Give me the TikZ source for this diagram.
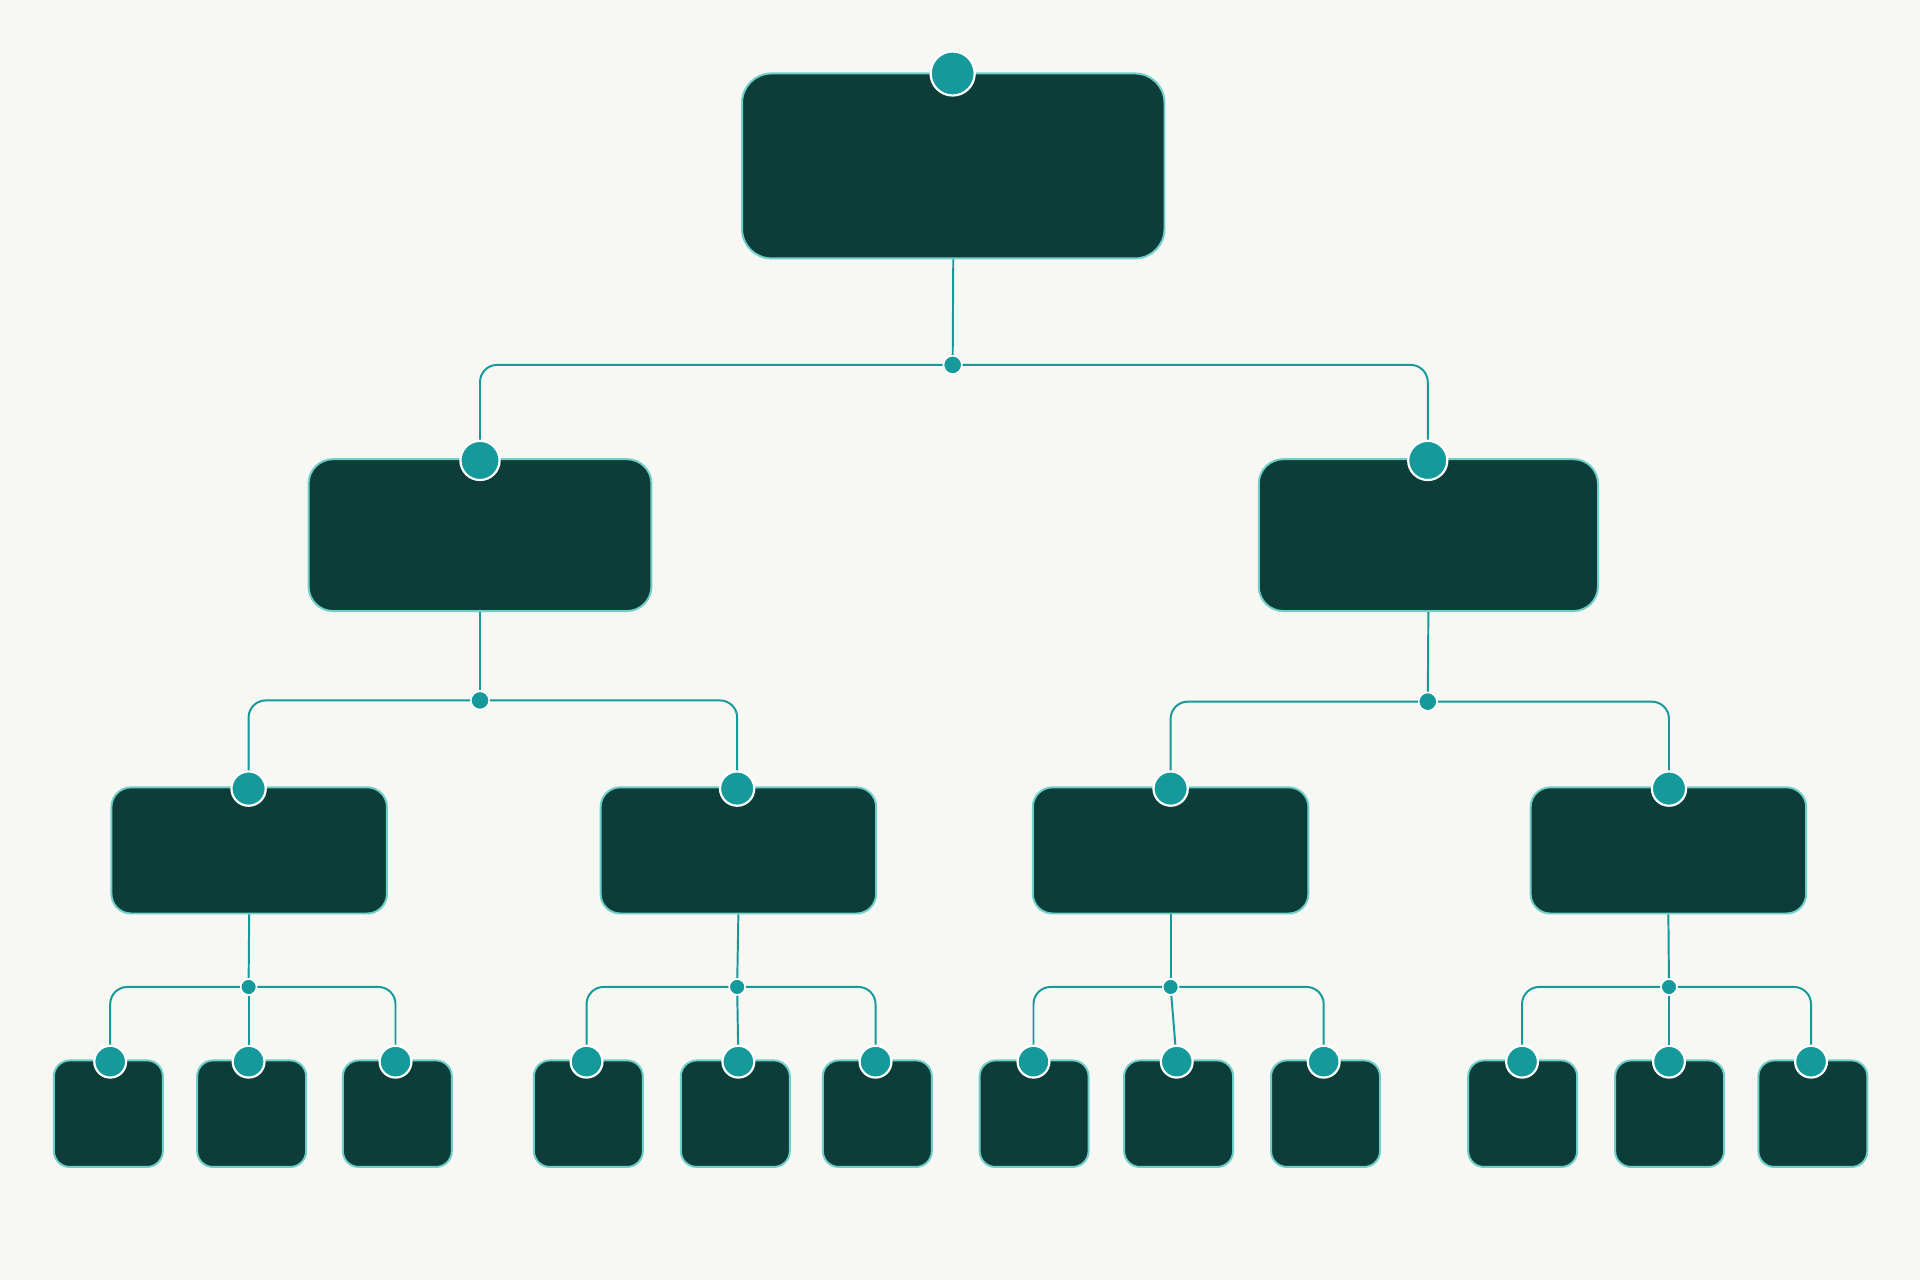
\documentclass[tikz,border=0pt]{standalone}
\begin{document}
\begin{tikzpicture}[x=1pt,y=-1pt,
  box/.style={draw=glow,line width=1.6pt,fill=boxc,rounded corners=20pt,inner sep=0pt},
  leaf/.style={draw=glow,line width=1.6pt,fill=boxc,rounded corners=13pt,inner sep=0pt,minimum width=89pt,minimum height=87pt},
  port/.style={circle,draw=white,line width=1.8pt,fill=tealc,inner sep=0pt,minimum size=#1},
  jn/.style={circle,draw=white,line width=1.3pt,fill=tealc,inner sep=0pt,minimum size=15pt},
  wire/.style={draw=tealc,line width=1.6pt,rounded corners=14pt}]
\definecolor{bg}{HTML}{F7F7F4}
\definecolor{boxc}{HTML}{0C3D38}
\definecolor{glow}{HTML}{6FCFC8}
\definecolor{tealc}{HTML}{15999A}
\fill[bg] (0,0) rectangle (1568,1045);
\useasboundingbox (0,0) rectangle (1568,1045);
% boxes
\node[box,minimum width=345pt,minimum height=151pt,rounded corners=24pt] (r) at (778.5,135.5) {};
\node[box,minimum width=280pt,minimum height=124pt] (a) at (392,437) {};
\node[box,minimum width=277pt,minimum height=124pt] (b) at (1166.5,437) {};
\foreach \n/\x in {a1/203.5,a2/603,b1/956,b2/1362.5}
  \node[box,minimum width=225pt,minimum height=103pt,rounded corners=16pt] (\n) at (\x,694.5) {};
\foreach \n/\x in {l1/88.5,l2/205.5,l3/324.5,l4/480.5,l5/600.5,l6/716.5,l7/844.5,l8/962.5,l9/1082.5,l10/1243.5,l11/1363.5,l12/1480.5}
  \node[leaf] (\n) at (\x,909.5) {};
% ports
\node[port=36pt] (pr) at (778,60) {};
\node[port=32pt] (pa) at (392,376) {};
\node[port=32pt] (pb) at (1166,376) {};
\foreach \n/\x in {pa1/203,pa2/602,pb1/956,pb2/1363}
  \node[port=28pt] (\n) at (\x,644) {};
\foreach \n/\x in {p1/90,p2/203,p3/323,p4/479,p5/603,p6/715,p7/844,p8/961,p9/1081,p10/1243,p11/1363,p12/1479}
  \node[port=26pt] (\n) at (\x,867) {};
% junctions
\node[jn] (j0) at (778,298) {};
\node[jn] (ja) at (392,572) {};
\node[jn] (jb) at (1166,573) {};
\foreach \n/\x in {ja1/203,ja2/602,jb1/956,jb2/1363}
  \node[jn,minimum size=13pt] (\n) at (\x,806) {};
% wires
\draw[wire] (r.south) -- (j0);
\draw[wire] (j0) -| (pa); \draw[wire] (j0) -| (pb);
\draw[wire] (a.south) -- (ja); \draw[wire] (b.south) -- (jb);
\draw[wire] (ja) -| (pa1); \draw[wire] (ja) -| (pa2);
\draw[wire] (jb) -| (pb1); \draw[wire] (jb) -| (pb2);
\foreach \p/\j in {a1/ja1,a2/ja2,b1/jb1,b2/jb2}
  \draw[wire] (\p.south) -- (\j);
\draw[wire] (ja1) -| (p1); \draw[wire] (ja1) -- (p2); \draw[wire] (ja1) -| (p3);
\draw[wire] (ja2) -| (p4); \draw[wire] (ja2) -- (p5); \draw[wire] (ja2) -| (p6);
\draw[wire] (jb1) -| (p7); \draw[wire] (jb1) -- (p8); \draw[wire] (jb1) -| (p9);
\draw[wire] (jb2) -| (p10); \draw[wire] (jb2) -- (p11); \draw[wire] (jb2) -| (p12);
\end{tikzpicture}
\end{document}
